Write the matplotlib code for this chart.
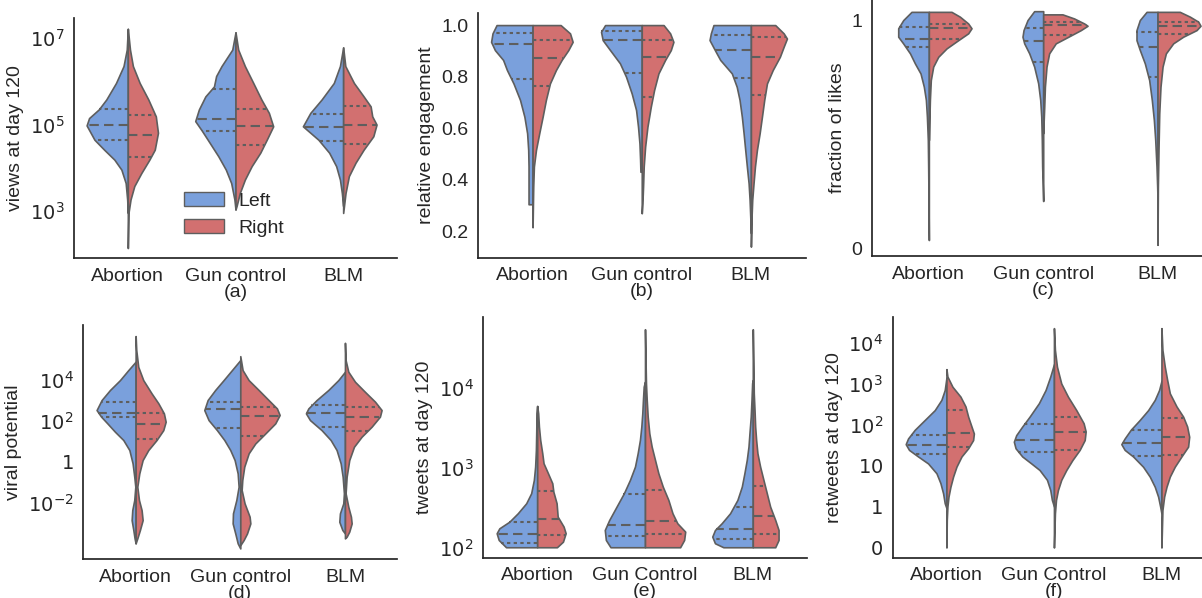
import numpy as np
import matplotlib
matplotlib.use("Agg")
import matplotlib.pyplot as plt
from matplotlib.patches import Patch

# categories and tick labels
cats_top = ["Abortion", "Gun control", "BLM"]
cats_d = ["Abortion", "Gun control", "BLM"]
cats_ef = ["Abortion", "Gun Control", "BLM"]

# violin half-profiles: y values and half widths,
# one list per category (Abortion, Gun control, BLM); quartiles as [q1, median, q3]

# (a) views at day 120 (log10)
A_LEFT_Y = [[7.21, 6.73, 6.35, 5.96, 5.58, 5.35, 5.15, 4.98, 4.65, 4.42, 4.19, 3.96, 3.65, 3.27, 2.96],
            [7.13, 6.73, 6.35, 6.12, 5.88, 5.65, 5.35, 5.08, 4.85, 4.58, 4.27, 3.96, 3.65, 3.27, 3.04],
            [6.78, 6.35, 5.96, 5.58, 5.27, 4.96, 4.65, 4.35, 4.04, 3.73, 3.42, 3.12]]
A_LEFT_W = [[0.0, 0.01, 0.04, 0.11, 0.2, 0.27, 0.36, 0.383, 0.31, 0.22, 0.125, 0.06, 0.02, 0.006, 0.0],
            [0.0, 0.03, 0.13, 0.18, 0.2, 0.28, 0.34, 0.374, 0.31, 0.24, 0.16, 0.09, 0.04, 0.01, 0.0],
            [0.0, 0.03, 0.087, 0.2, 0.305, 0.374, 0.23, 0.13, 0.065, 0.03, 0.012, 0.0]]
A_LEFT_Q = [[4.64, 4.98, 5.36], [4.86, 5.14, 5.82], [4.62, 4.95, 5.25]]
A_RIGHT_Y = [[7.21, 6.73, 6.35, 5.96, 5.58, 5.19, 4.81, 4.42, 4.19, 3.88, 3.58, 3.27, 2.96, 2.15],
             [7.13, 6.73, 6.35, 5.96, 5.58, 5.27, 4.96, 4.65, 4.35, 4.04, 3.73, 3.42, 3.12, 3.04],
             [6.78, 6.35, 5.96, 5.65, 5.42, 5.19, 5.0, 4.73, 4.42, 4.12, 3.81, 3.42, 2.96]]
A_RIGHT_W = [[0.0, 0.02, 0.047, 0.11, 0.19, 0.26, 0.28, 0.25, 0.2, 0.125, 0.06, 0.025, 0.006, 0.0],
             [0.0, 0.025, 0.087, 0.165, 0.24, 0.31, 0.35, 0.29, 0.23, 0.15, 0.087, 0.04, 0.01, 0.0],
             [0.0, 0.02, 0.1, 0.19, 0.255, 0.27, 0.31, 0.28, 0.19, 0.115, 0.053, 0.022, 0.0]]
A_RIGHT_Q = [[4.25, 4.75, 5.22], [4.52, 4.96, 5.37], [4.56, 5.0, 5.44]]

# (b) relative engagement
B_LEFT_Y = [[1.0, 0.968, 0.935, 0.903, 0.865, 0.826, 0.774, 0.71, 0.645, 0.581, 0.516, 0.452, 0.374, 0.306],
            [1.0, 0.974, 0.942, 0.903, 0.852, 0.8, 0.735, 0.671, 0.606, 0.542, 0.477, 0.432],
            [1.0, 0.968, 0.942, 0.903, 0.865, 0.813, 0.761, 0.71, 0.645, 0.581, 0.516, 0.452, 0.387, 0.323, 0.258, 0.194]]
B_LEFT_W = [[0.33, 0.367, 0.38, 0.345, 0.27, 0.235, 0.175, 0.115, 0.075, 0.05, 0.04, 0.037, 0.037, 0.037],
            [0.336, 0.373, 0.358, 0.29, 0.2, 0.144, 0.092, 0.052, 0.034, 0.021, 0.015, 0.012],
            [0.343, 0.367, 0.379, 0.33, 0.281, 0.175, 0.13, 0.104, 0.083, 0.067, 0.052, 0.037, 0.021, 0.012, 0.006, 0.0]]
B_LEFT_Q = [[0.791, 0.925, 0.969], [0.815, 0.941, 0.977], [0.794, 0.903, 0.963]]
B_RIGHT_Y = [[1.0, 0.968, 0.935, 0.903, 0.865, 0.826, 0.774, 0.71, 0.645, 0.581, 0.516, 0.452, 0.374, 0.297, 0.217],
             [1.0, 0.968, 0.935, 0.903, 0.865, 0.813, 0.748, 0.684, 0.606, 0.529, 0.452, 0.374, 0.31, 0.271],
             [1.0, 0.968, 0.948, 0.916, 0.877, 0.826, 0.774, 0.71, 0.645, 0.581, 0.516, 0.452, 0.387, 0.323, 0.258, 0.142]]
B_RIGHT_W = [[0.257, 0.343, 0.367, 0.327, 0.266, 0.214, 0.159, 0.122, 0.092, 0.061, 0.031, 0.012, 0.006, 0.003, 0.0],
             [0.2, 0.26, 0.29, 0.266, 0.214, 0.153, 0.113, 0.083, 0.052, 0.031, 0.018, 0.012, 0.006, 0.0],
             [0.223, 0.3, 0.33, 0.3, 0.265, 0.2, 0.147, 0.122, 0.101, 0.08, 0.055, 0.037, 0.024, 0.012, 0.006, 0.0]]
B_RIGHT_Q = [[0.764, 0.871, 0.943], [0.72, 0.877, 0.942], [0.729, 0.877, 0.955]]

# (c) fraction of likes
C_LEFT_Y = [[1.036, 1.0, 0.964, 0.927, 0.898, 0.854, 0.81, 0.766, 0.708, 0.65, 0.577, 0.474, 0.358, 0.212, 0.036],
            [1.039, 1.0, 0.956, 0.927, 0.898, 0.854, 0.796, 0.723, 0.65, 0.577, 0.474, 0.358, 0.207],
            [1.036, 1.0, 0.956, 0.912, 0.869, 0.81, 0.737, 0.65, 0.562, 0.474, 0.358, 0.27, 0.212]]
C_LEFT_W = [[0.152, 0.224, 0.268, 0.268, 0.225, 0.165, 0.122, 0.073, 0.044, 0.026, 0.017, 0.009, 0.006, 0.003, 0.0],
            [0.079, 0.137, 0.172, 0.181, 0.166, 0.122, 0.079, 0.044, 0.026, 0.017, 0.012, 0.009, 0.0],
            [0.096, 0.155, 0.184, 0.184, 0.155, 0.111, 0.073, 0.05, 0.032, 0.02, 0.009, 0.003, 0.0]]
C_LEFT_Q = [[0.88, 0.918, 0.968], [0.816, 0.909, 0.964], [0.752, 0.883, 0.946]]
C_RIGHT_Y = [[1.036, 1.015, 0.985, 0.964, 0.942, 0.912, 0.876, 0.839, 0.796, 0.737, 0.65, 0.533, 0.474],
             [1.025, 1.007, 0.985, 0.975, 0.956, 0.927, 0.898, 0.854, 0.796, 0.708, 0.62, 0.504],
             [1.036, 1.015, 0.993, 0.975, 0.956, 0.927, 0.898, 0.854, 0.796, 0.708, 0.591, 0.445, 0.27, 0.015]]
C_RIGHT_W = [[0.198, 0.271, 0.344, 0.373, 0.344, 0.257, 0.155, 0.082, 0.038, 0.017, 0.009, 0.003, 0.0],
             [0.169, 0.271, 0.359, 0.388, 0.329, 0.22, 0.11, 0.052, 0.029, 0.015, 0.009, 0.0],
             [0.195, 0.283, 0.356, 0.376, 0.341, 0.224, 0.137, 0.073, 0.044, 0.026, 0.015, 0.009, 0.003, 0.0]]
C_RIGHT_Q = [[0.918, 0.965, 0.985], [0.936, 0.977, 0.993], [0.937, 0.975, 0.99]]

# (d) viral potential (log10)
D_LEFT_Y = [[4.88, 4.47, 3.98, 3.5, 3.01, 2.52, 2.2, 1.87, 1.46, 1.06, 0.57, -0.08, -0.73, -1.22, -1.87, -2.36, -2.85, -3.33, -3.74, -3.98],
            [4.96, 4.47, 3.98, 3.5, 3.01, 2.52, 2.03, 1.54, 1.06, 0.57, 0.08, -0.57, -1.22, -1.87, -2.52, -3.01, -3.5, -3.98, -4.23],
            [4.39, 3.98, 3.5, 3.01, 2.6, 2.36, 2.03, 1.54, 1.06, 0.57, -0.08, -0.73, -1.54, -2.03, -2.52, -2.93, -3.33, -3.5]]
D_LEFT_W = [[0.0, 0.07, 0.15, 0.245, 0.325, 0.373, 0.33, 0.27, 0.197, 0.118, 0.06, 0.029, 0.013, 0.003, 0.013, 0.032, 0.038, 0.022, 0.01, 0.0],
            [0.0, 0.08, 0.16, 0.24, 0.312, 0.344, 0.303, 0.223, 0.153, 0.096, 0.054, 0.025, 0.016, 0.038, 0.07, 0.073, 0.048, 0.025, 0.0],
            [0.0, 0.064, 0.159, 0.271, 0.35, 0.373, 0.334, 0.223, 0.137, 0.08, 0.041, 0.022, 0.01, 0.016, 0.048, 0.054, 0.025, 0.0]]
D_LEFT_Q = [[2.16, 2.39, 2.93], [1.66, 2.59, 2.93], [1.67, 2.36, 2.75]]
D_RIGHT_Y = [[6.13, 5.45, 4.63, 3.98, 3.33, 2.85, 2.36, 1.95, 1.54, 1.06, 0.57, 0.08, -0.57, -1.22, -1.87, -2.36, -2.85, -3.33, -3.74, -3.98],
             [5.15, 4.47, 3.98, 3.5, 3.01, 2.6, 2.28, 1.87, 1.38, 0.89, 0.41, -0.24, -0.89, -1.38, -2.03, -2.68, -3.01, -3.5, -3.82, -4.07],
             [5.8, 4.96, 4.39, 3.9, 3.41, 2.93, 2.52, 2.2, 1.71, 1.22, 0.73, 0.08, -0.73, -1.54, -2.2, -2.68, -3.01, -3.41, -3.66, -3.74]]
D_RIGHT_W = [[0.0, 0.006, 0.025, 0.073, 0.153, 0.217, 0.27, 0.287, 0.264, 0.2, 0.121, 0.067, 0.035, 0.016, 0.032, 0.057, 0.067, 0.041, 0.016, 0.0],
             [0.0, 0.022, 0.08, 0.175, 0.27, 0.35, 0.376, 0.334, 0.239, 0.143, 0.08, 0.038, 0.019, 0.013, 0.041, 0.089, 0.096, 0.064, 0.032, 0.0],
             [0.0, 0.006, 0.032, 0.096, 0.191, 0.287, 0.35, 0.334, 0.255, 0.159, 0.086, 0.041, 0.016, 0.006, 0.032, 0.057, 0.064, 0.041, 0.016, 0.0]]
D_RIGHT_Q = [[1.11, 1.84, 2.39], [1.27, 2.24, 2.68], [1.51, 2.16, 2.68]]

# (e) tweets at day 120 (log10)
E_LEFT_Y = [[2.013, 2.104, 2.188, 2.25, 2.333, 2.438, 2.563, 2.688, 2.854, 3.021, 3.229, 3.438, 3.688, 3.779],
            [2.013, 2.104, 2.229, 2.354, 2.521, 2.688, 2.854, 3.021, 3.188, 3.354, 3.521, 3.688, 3.854, 4.021, 4.083],
            [2.013, 2.063, 2.146, 2.229, 2.313, 2.438, 2.604, 2.771, 2.938, 3.104, 3.271, 3.438, 3.646, 3.854, 4.063, 4.104]]
E_LEFT_W = [[0.289, 0.357, 0.376, 0.351, 0.258, 0.18, 0.102, 0.056, 0.031, 0.019, 0.012, 0.009, 0.006, 0.0],
            [0.32, 0.363, 0.373, 0.332, 0.264, 0.196, 0.14, 0.093, 0.068, 0.047, 0.034, 0.025, 0.019, 0.012, 0.0],
            [0.273, 0.351, 0.376, 0.351, 0.289, 0.211, 0.143, 0.102, 0.078, 0.056, 0.04, 0.031, 0.019, 0.012, 0.006, 0.0]]
E_LEFT_Q = [[2.071, 2.175, 2.333], [2.158, 2.288, 2.675], [2.117, 2.238, 2.521]]
E_RIGHT_Y = [[2.013, 2.083, 2.188, 2.271, 2.396, 2.563, 2.708, 2.813, 2.938, 3.063, 3.188, 3.354, 3.521, 3.688, 3.779],
             [2.013, 2.104, 2.208, 2.313, 2.438, 2.604, 2.771, 2.938, 3.104, 3.271, 3.438, 3.646, 3.854, 4.063, 4.271, 4.738],
             [2.013, 2.104, 2.229, 2.354, 2.521, 2.688, 2.854, 3.021, 3.188, 3.354, 3.521, 3.729, 3.938, 4.271, 4.738]]
E_RIGHT_W = [[0.183, 0.239, 0.264, 0.245, 0.19, 0.18, 0.15, 0.14, 0.1, 0.059, 0.047, 0.028, 0.016, 0.009, 0.0],
             [0.326, 0.363, 0.373, 0.3, 0.255, 0.217, 0.165, 0.124, 0.093, 0.062, 0.04, 0.025, 0.016, 0.009, 0.006, 0.0],
             [0.208, 0.239, 0.239, 0.208, 0.161, 0.13, 0.099, 0.068, 0.043, 0.031, 0.022, 0.016, 0.009, 0.006, 0.0]]
E_RIGHT_Q = [[2.163, 2.371, 2.713], [2.179, 2.346, 2.729], [2.179, 2.404, 2.783]]

# (f) retweets at day 120 (tick index: 0, 1, 10, 10^2, ...)
F_LEFT_Y = [[4.16, 3.86, 3.62, 3.37, 3.13, 2.89, 2.68, 2.54, 2.4, 2.24, 2.07, 1.83, 1.59, 1.34, 1.1, 0.98],
            [4.49, 4.19, 3.86, 3.54, 3.21, 2.97, 2.76, 2.6, 2.44, 2.24, 2.07, 1.91, 1.67, 1.42, 1.18, 1.02],
            [4.08, 3.86, 3.62, 3.37, 3.13, 2.89, 2.68, 2.54, 2.4, 2.24, 1.99, 1.75, 1.5, 1.26, 1.02, 0.85]]
F_LEFT_W = [[0.0, 0.016, 0.047, 0.109, 0.202, 0.295, 0.357, 0.379, 0.348, 0.264, 0.171, 0.093, 0.056, 0.031, 0.016, 0.0],
            [0.0, 0.034, 0.078, 0.14, 0.227, 0.295, 0.351, 0.373, 0.357, 0.295, 0.211, 0.134, 0.065, 0.034, 0.019, 0.0],
            [0.0, 0.022, 0.062, 0.124, 0.202, 0.286, 0.342, 0.373, 0.342, 0.264, 0.171, 0.109, 0.062, 0.031, 0.012, 0.0]]
F_LEFT_Q = [[2.3, 2.53, 2.76], [2.36, 2.63, 3.02], [2.24, 2.58, 2.88]]
F_RIGHT_Y = [[4.37, 4.19, 3.94, 3.7, 3.46, 3.21, 2.97, 2.8, 2.64, 2.44, 2.24, 1.99, 1.75, 1.5, 1.26, 1.02, 0.69, 0.02],
             [5.37, 4.84, 4.43, 4.02, 3.7, 3.37, 3.05, 2.85, 2.64, 2.4, 2.15, 1.91, 1.67, 1.42, 1.18, 0.85, 0.02],
             [5.37, 4.84, 4.43, 4.11, 3.78, 3.46, 3.21, 2.97, 2.72, 2.48, 2.24, 1.99, 1.75, 1.5, 1.26, 0.93, 0.02]]
F_RIGHT_W = [[0.0, 0.009, 0.056, 0.13, 0.177, 0.202, 0.233, 0.255, 0.248, 0.202, 0.14, 0.093, 0.062, 0.037, 0.019, 0.009, 0.003, 0.0],
             [0.0, 0.009, 0.028, 0.068, 0.13, 0.208, 0.276, 0.295, 0.286, 0.239, 0.171, 0.115, 0.068, 0.037, 0.019, 0.009, 0.0],
             [0.0, 0.009, 0.031, 0.053, 0.078, 0.14, 0.202, 0.239, 0.258, 0.248, 0.186, 0.124, 0.078, 0.047, 0.025, 0.009, 0.0]]
F_RIGHT_Q = [[2.48, 2.82, 3.37], [2.4, 2.84, 3.2], [2.28, 2.71, 3.19]]

# y ticks
A_TICKS = [3, 5, 7]
A_TICKLABELS = ["$10^{3}$", "$10^{5}$", "$10^{7}$"]
B_TICKS = [0.2, 0.4, 0.6, 0.8, 1.0]
B_TICKLABELS = ["0.2", "0.4", "0.6", "0.8", "1.0"]
C_TICKS = [0, 1]
C_TICKLABELS = ["0", "1"]
D_TICKS = [-2, 0, 2, 4]
D_TICKLABELS = ["$10^{-2}$", "$1$", "$10^{2}$", "$10^{4}$"]
E_TICKS = [2, 3, 4]
E_TICKLABELS = ["$10^{2}$", "$10^{3}$", "$10^{4}$"]
F_TICKS = [0, 1, 2, 3, 4, 5]
F_TICKLABELS = ["$0$", "$1$", "$10$", "$10^{2}$", "$10^{3}$", "$10^{4}$"]

BLUE = "#7AA0DC"
RED = "#D27070"
EDGE = "#5E5E5E"
DARK = "#262626"

plt.rcParams["font.family"] = ["Liberation Sans", "DejaVu Sans"]
plt.rcParams["mathtext.fontset"] = "dejavusans"
plt.rcParams["text.color"] = DARK

W, H = 1202, 598
fig = plt.figure(figsize=(W / 100, H / 100), dpi=100)


def add_axes(left, top, right, bottom):
    return fig.add_axes([left / W, 1 - bottom / H, (right - left) / W, (bottom - top) / H])


def draw_half(ax, pos, ys, ws, quart, side, color):
    ys = np.asarray(ys, float)
    ws = np.asarray(ws, float)
    ax.fill_betweenx(ys, pos, pos + side * ws, facecolor=color, edgecolor=EDGE,
                     linewidth=1.2, zorder=2)
    order = np.argsort(ys)
    for q, ls in zip(quart, [(0, (1.6, 1.6)), (0, (4.5, 2.5)), (0, (1.6, 1.6))]):
        w = np.interp(q, ys[order], ws[order])
        ax.plot([pos, pos + side * w], [q, q], color=EDGE, ls=ls, lw=1.5, zorder=3)


panels = [
    ((74, 18, 397, 258), cats_top, (1.92, 7.46), A_TICKS, A_TICKLABELS, "views at day 120", "(a)",
     A_LEFT_Y, A_LEFT_W, A_LEFT_Q, A_RIGHT_Y, A_RIGHT_W, A_RIGHT_Q),
    ((478, 12.7, 805.5, 257.7), cats_top, (0.099, 1.048), B_TICKS, B_TICKLABELS, "relative engagement", "(b)",
     B_LEFT_Y, B_LEFT_W, B_LEFT_Q, B_RIGHT_Y, B_RIGHT_W, B_RIGHT_Q),
    ((871.7, 0, 1214.7, 256), cats_top, (-0.034, 1.088), C_TICKS, C_TICKLABELS, "fraction of likes", "(c)",
     C_LEFT_Y, C_LEFT_W, C_LEFT_Q, C_RIGHT_Y, C_RIGHT_W, C_RIGHT_Q),
    ((83.3, 325, 397.3, 559.3), cats_d, (-4.76, 6.67), D_TICKS, D_TICKLABELS, "viral potential", "(d)",
     D_LEFT_Y, D_LEFT_W, D_LEFT_Q, D_RIGHT_Y, D_RIGHT_W, D_RIGHT_Q),
    ((483.3, 316.7, 806.7, 557.7), cats_ef, (1.8825, 4.895), E_TICKS, E_TICKLABELS, "tweets at day 120", "(e)",
     E_LEFT_Y, E_LEFT_W, E_LEFT_Q, E_RIGHT_Y, E_RIGHT_W, E_RIGHT_Q),
    ((892.7, 317.3, 1215.2, 557.7), cats_ef, (-0.229, 5.634), F_TICKS, F_TICKLABELS, "retweets at day 120", "(f)",
     F_LEFT_Y, F_LEFT_W, F_LEFT_Q, F_RIGHT_Y, F_RIGHT_W, F_RIGHT_Q),
]

axes = []
for box, cats, ylim, ticks, ticklabels, ylabel, tag, ly, lw_, lq, ry, rw, rq in panels:
    ax = add_axes(*box)
    axes.append(ax)
    for i in range(len(cats)):
        draw_half(ax, i, ly[i], lw_[i], lq[i], -1, BLUE)
        draw_half(ax, i, ry[i], rw[i], rq[i], 1, RED)
    ax.set_xlim(-0.5, 2.5)
    ax.set_ylim(*ylim)
    ax.set_xticks(range(len(cats)))
    ax.set_xticklabels(cats)
    ax.set_yticks(ticks)
    ax.set_yticklabels(ticklabels)
    ax.tick_params(length=0, pad=7, labelsize=14, colors=DARK)
    for s in ["top", "right"]:
        ax.spines[s].set_visible(False)
    for s in ["left", "bottom"]:
        ax.spines[s].set_color(DARK)
        ax.spines[s].set_linewidth(1.25)
    ax.set_ylabel(ylabel, fontsize=14, color=DARK)
    ax.annotate(tag, xy=(0.5, 0), xycoords="axes fraction", xytext=(0, -24.5),
                textcoords="offset points", ha="center", va="center", fontsize=14, color=DARK)

handles = [Patch(facecolor=BLUE, edgecolor=EDGE, label="Left"),
           Patch(facecolor=RED, edgecolor=EDGE, label="Right")]
axes[0].legend(handles=handles, loc="upper left", bbox_to_anchor=(0.34, 0.273), frameon=False,
               fontsize=14, handlelength=2.05, handleheight=0.72, handletextpad=0.75,
               labelspacing=0.45, borderpad=0, borderaxespad=0)

fig.savefig("out.png", dpi=100)
